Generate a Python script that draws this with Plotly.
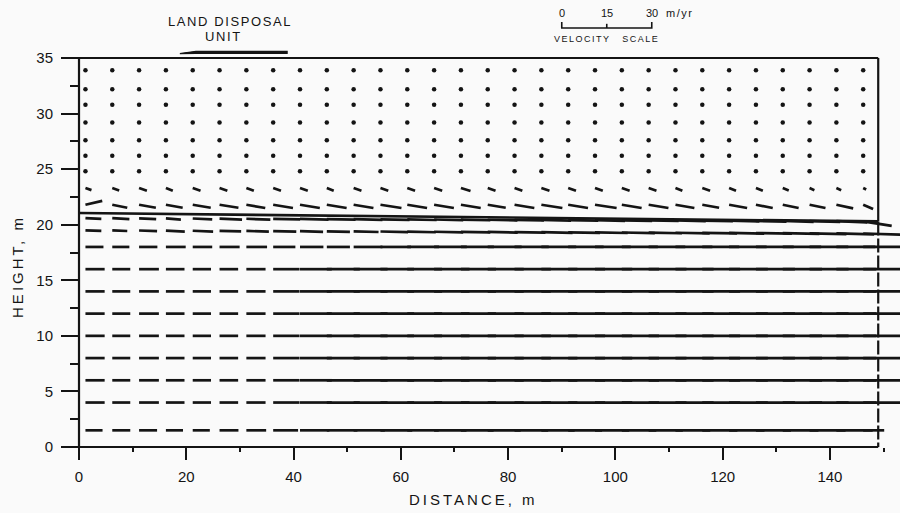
import plotly.graph_objects as go

# ---------------------------------------------------------------------------
# Finite-element grid (model coordinates, metres)
# ---------------------------------------------------------------------------
col_x = [1.2, 6.2, 11.2, 16.2, 21.2, 26.2, 31.2, 36.2, 41.2, 46.2,
         51.2, 56.2, 61.2, 66.2, 71.2, 76.2, 81.2, 86.2, 91.2, 96.2,
         101.2, 106.2, 111.2, 116.2, 121.2, 126.2, 131.2, 136.2, 141.2, 146.2]

# node rows in the unsaturated zone where the velocity is negligible
dot_rows = [24.8, 26.2, 27.6, 29.2, 30.8, 32.2, 33.9]

# velocity components (m/yr) along the rows that carry flow
u_fringe = [2.0, 2.3, 2.6, 2.3, 2.6, 2.6, 2.5, 2.6, 2.6, 2.3, 2.6, 2.6, 2.6, 2.7, 3.2,
            2.6, 2.6, 2.7, 2.6, 2.6, 2.6, 2.6, 2.3, 2.6, 2.3, 2.3, 2.0, 1.6, 1.6, 1.0]
v_fringe = [-0.7, -0.8, -0.9, -0.9, -0.9, -0.9, -0.9, -0.9, -0.9, -0.9, -0.9, -0.9, -0.9, -0.9, -1.0,
            -0.9, -0.9, -0.9, -0.9, -0.9, -0.9, -0.9, -0.9, -0.9, -0.9, -0.9, -0.8, -0.7, -0.7, -0.5]

u_cap = [5.6, 5.0, 5.6, 5.6, 6.0, 6.3, 6.3, 6.6, 6.6, 6.6, 6.6, 7.0, 6.6, 6.6, 6.6,
         6.0, 6.6, 7.0, 6.6, 7.2, 6.6, 6.6, 6.3, 5.6, 6.0, 5.6, 5.3, 5.3, 5.6, 3.3]
v_cap = [1.3, -1.0, -1.0, -1.0, -1.0, -1.0, -1.1, -1.1, -1.1, -1.1, -1.1, -1.1, -1.1, -1.1, -1.1,
         -1.0, -1.1, -1.1, -1.1, -1.1, -1.1, -1.1, -1.1, -1.0, -1.1, -1.1, -1.1, -1.1, -1.2, -1.45]

u_wt_hi = [5.3, 5.7, 5.7, 5.0, 6.5, 7.5, 8.0, 9.0, 9.5, 9.6, 9.6, 9.7, 9.8, 9.7, 9.8,
           9.9, 9.8, 9.9, 10.0, 10.0, 10.1, 10.0, 10.1, 10.2, 10.1, 10.2, 10.3, 10.2, 10.3, 9.5]
v_wt_hi = [-0.3, -0.3, -0.3, -0.4, -0.3, -0.3, -0.3, -0.2, -0.2, -0.2, -0.2, -0.2, -0.2, -0.2, -0.2,
           -0.2, -0.2, -0.2, -0.2, -0.2, -0.2, -0.2, -0.2, -0.2, -0.2, -0.3, -0.3, -0.3, -0.4, -1.5]

u_wt_lo = [5.3, 5.0, 6.0, 6.3, 6.8, 7.2, 7.5, 7.7, 7.7, 7.7, 8.3, 9.2, 9.5, 9.7, 9.8,
           10.0, 10.3, 10.4, 10.6, 10.9, 11.0, 11.1, 11.4, 11.6, 11.7, 12.0, 12.2, 12.3, 12.6, 13.0]
v_wt_lo = [-0.2, -0.2, -0.2, -0.3, -0.3, -0.2, -0.2, -0.2, -0.2, -0.2, -0.2, -0.2, -0.2, -0.2, -0.2,
           -0.2, -0.2, -0.2, -0.2, -0.2, -0.2, -0.2, -0.2, -0.2, -0.2, -0.2, -0.2, -0.3, -0.3, -0.4]

u_row18 = [6.0, 5.7, 6.1, 6.6, 6.5, 6.7, 6.9, 7.4, 7.8, 7.7, 9.6, 10.2, 10.6, 10.9, 11.0,
           11.3, 11.4, 11.6, 11.8, 11.9, 12.0, 12.2, 12.3, 12.3, 12.5, 12.6, 12.8, 12.9, 13.0, 13.4]
u_sat = [6.4, 6.0, 6.6, 6.2, 6.1, 6.2, 6.4, 8.8, 10.6, 11.0, 11.3, 11.2, 11.6, 11.8, 11.7,
         12.0, 12.1, 12.0, 12.3, 12.4, 12.4, 12.6, 12.7, 12.6, 12.9, 13.0, 13.1, 13.0, 13.3, 13.6]
u_base = [5.7, 6.0, 6.0, 5.7, 5.7, 6.3, 6.6, 8.3, 9.8, 10.2, 10.4, 10.6, 10.5, 10.8, 10.9,
          11.0, 11.2, 11.1, 11.3, 11.4, 11.5, 11.4, 11.6, 11.7, 11.8, 11.7, 11.9, 12.0, 12.1, 7.0]
sat_rows = [4.0, 6.0, 8.0, 10.0, 12.0, 14.0, 16.0]

# (row height at x=0, drop of the row across the section, u, v)
flow_rows = [
    (23.3, 0.0, u_fringe, v_fringe),
    (21.8, 0.0, u_cap, v_cap),
    (20.6, 0.3, u_wt_hi, v_wt_hi),
    (19.5, 0.3, u_wt_lo, v_wt_lo),
    (18.0, 0.0, u_row18, None),
] + [(h, 0.0, u_sat, None) for h in sat_rows] + [(1.5, 0.0, u_base, None)]

# water table and boundaries
wt_x = [0.0, 149.0]
wt_y = [21.05, 20.3]
x_end = 149.0
z_top = 35.0
unit_x = [18.8, 38.8]          # land disposal unit
scale_vals = [0, 15, 30]       # velocity scale, m/yr
scale_x0, scale_y0 = 90.0, 37.7

x_ticks = [0, 20, 40, 60, 80, 100, 120, 140]
x_minor = [10, 30, 50, 70, 90, 110, 130, 150]
y_ticks = [0, 5, 10, 15, 20, 25, 30, 35]
y_minor = [2.5, 7.5, 12.5, 17.5, 22.5, 27.5, 32.5]

# ---------------------------------------------------------------------------
# Page geometry
# ---------------------------------------------------------------------------
W, H = 900, 513
x_range = [-14.73, 153.06]
y_range = [-5.94, 40.22]
px_x = W / (x_range[1] - x_range[0])
px_y = H / (y_range[1] - y_range[0])
ARROW_PX = 3.0                 # 30 m/yr drawn as 90 px
sx = ARROW_PX / px_x
sy = ARROW_PX / px_y

INK = "#141414"
FONT = "Liberation Sans"

fig = go.Figure()

# velocity vectors
vx, vy = [], []
for y0, drop, u, v in flow_rows:
    for i, x in enumerate(col_x):
        yn = y0 - drop * x / 150.0
        vv = v[i] if v is not None else 0.0
        vx += [x, x + u[i] * sx, None]
        vy += [yn, yn + vv * sy, None]
fig.add_trace(go.Scatter(x=vx, y=vy, mode="lines",
                         line=dict(color=INK, width=2.7), hoverinfo="skip"))

# near-zero velocities in the unsaturated zone
dx, dy = [], []
for h in dot_rows:
    for x in col_x:
        dx.append(x)
        dy.append(h)
fig.add_trace(go.Scatter(x=dx, y=dy, mode="markers",
                         marker=dict(color=INK, size=4.5), hoverinfo="skip"))

# water table
fig.add_trace(go.Scatter(x=wt_x, y=wt_y, mode="lines",
                         line=dict(color=INK, width=2.6), hoverinfo="skip"))

# domain outline
fig.add_trace(go.Scatter(x=[x_end, 0, 0, x_end, x_end],
                         y=[z_top, z_top, 0, 0, 0], mode="lines",
                         line=dict(color=INK, width=2.2), hoverinfo="skip"))
fig.add_trace(go.Scatter(x=[x_end, x_end], y=[z_top, wt_y[1]], mode="lines",
                         line=dict(color=INK, width=2.2), hoverinfo="skip"))
fig.add_trace(go.Scatter(x=[x_end, x_end], y=[wt_y[1], 0], mode="lines",
                         line=dict(color=INK, width=2.2, dash="14px,3px"),
                         hoverinfo="skip"))

# land disposal unit on the surface
fig.add_trace(go.Scatter(x=[unit_x[0], unit_x[0] + 3.0, unit_x[1], unit_x[1], unit_x[0] + 3.0, unit_x[0]],
                         y=[z_top + 0.40, z_top + 0.60, z_top + 0.60, z_top + 0.42, z_top + 0.42, z_top + 0.40],
                         mode="lines", fill="toself", fillcolor=INK,
                         line=dict(color=INK, width=1.2), hoverinfo="skip"))

# velocity scale bar
sb_x = [scale_x0 + s * sx for s in scale_vals]
tick_h = 6 / px_y
fig.add_trace(go.Scatter(
    x=[sb_x[0], sb_x[0], sb_x[2], sb_x[2], None, sb_x[1], sb_x[1]],
    y=[scale_y0 + tick_h, scale_y0, scale_y0, scale_y0 + tick_h, None,
       scale_y0, scale_y0 + 0.7 * tick_h],
    mode="lines", line=dict(color=INK, width=1.6), hoverinfo="skip"))

ann = []
lab_y = scale_y0 + 15 / px_y
for s, xs in zip(scale_vals, sb_x):
    ann.append(dict(x=xs, y=lab_y, text=str(s), showarrow=False,
                    xanchor="center", yanchor="middle",
                    font=dict(family=FONT, size=11, color=INK)))
ann.append(dict(x=sb_x[2] + 12 / px_x, y=lab_y,
                text='<span style="letter-spacing:1.5px">m/yr</span>',
                showarrow=False, xanchor="left", yanchor="middle",
                font=dict(family=FONT, size=11, color=INK)))
ann.append(dict(x=(sb_x[0] + sb_x[2]) / 2, y=scale_y0 - 11 / px_y,
                text='<span style="letter-spacing:1.5px">VELOCITY   SCALE</span>',
                showarrow=False, xanchor="center", yanchor="middle",
                font=dict(family=FONT, size=9, color=INK)))

# labels
ann.append(dict(x=28.2, y=z_top + 37 / px_y, showarrow=False,
                text='<span style="letter-spacing:1.6px">LAND DISPOSAL</span>',
                xanchor="center", yanchor="middle",
                font=dict(family=FONT, size=13, color=INK)))
ann.append(dict(x=27.0, y=z_top + 22 / px_y, showarrow=False,
                text='<span style="letter-spacing:1.6px">UNIT</span>',
                xanchor="center", yanchor="middle",
                font=dict(family=FONT, size=13, color=INK)))
ann.append(dict(x=73.6, y=-53 / px_y, showarrow=False,
                text='<span style="letter-spacing:3px">DISTANCE, m</span>',
                xanchor="center", yanchor="middle",
                font=dict(family=FONT, size=15, color=INK)))
ann.append(dict(x=-61 / px_x, y=16.2, showarrow=False, textangle=-90,
                text='<span style="letter-spacing:3px">HEIGHT, m</span>',
                xanchor="center", yanchor="middle",
                font=dict(family=FONT, size=15, color=INK)))

fig.update_layout(
    width=W, height=H,
    margin=dict(l=0, r=0, t=0, b=0, autoexpand=False),
    paper_bgcolor="#fafafa", plot_bgcolor="#fafafa",
    showlegend=False,
    annotations=ann,
    xaxis=dict(range=x_range, anchor="free",
               position=(0 - y_range[0]) / (y_range[1] - y_range[0]),
               showgrid=False, zeroline=False, showline=False,
               tickmode="array", tickvals=x_ticks,
               ticks="outside", ticklen=12, tickwidth=2, tickcolor=INK,
               ticklabelstandoff=4,
               minor=dict(tickmode="array", tickvals=x_minor, ticks="outside",
                          ticklen=4, tickwidth=2, tickcolor=INK, showgrid=False),
               tickfont=dict(family=FONT, size=15, color=INK)),
    yaxis=dict(range=y_range, anchor="free",
               position=(0 - x_range[0]) / (x_range[1] - x_range[0]),
               showgrid=False, zeroline=False, showline=False,
               tickmode="array", tickvals=y_ticks,
               ticks="outside", ticklen=18, tickwidth=2, tickcolor=INK,
               ticklabelstandoff=5,
               minor=dict(tickmode="array", tickvals=y_minor, ticks="outside",
                          ticklen=9, tickwidth=2, tickcolor=INK, showgrid=False),
               tickfont=dict(family=FONT, size=15, color=INK)),
)

fig.write_html("out.html")
